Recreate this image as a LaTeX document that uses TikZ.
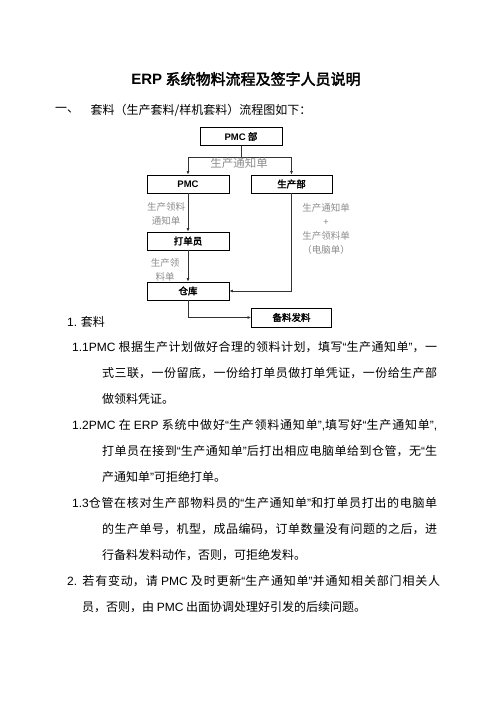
\documentclass[tikz,border=0pt]{standalone}
\usepackage{fontspec}
\usepackage{tikz}
\usetikzlibrary{shapes,arrows.meta,positioning}
\setmainfont[AutoFakeBold=2.5]{Noto Sans CJK SC}
\newfontfamily\arial{Liberation Sans}
\XeTeXlinebreaklocale "zh"
\XeTeXlinebreakskip=0pt plus 2pt
\newcommand{\qt}[1]{{\arial “}#1{\arial ”}}
\definecolor{notegray}{RGB}{140,140,140}
\definecolor{wiregray}{RGB}{50,50,50}

\begin{document}
\begin{tikzpicture}[x=1pt, y=-1pt, >={Latex[length=3.5pt,width=3pt]},
	box/.style={draw, rectangle, line width=0.8pt, minimum height=18pt, inner sep=0pt, font=\fontsize{9.5}{11}\bfseries},
	note/.style={text=notegray, align=center, inner sep=0pt, font=\fontsize{9.5}{14}\selectfont},
	body/.style={inner sep=0pt, font=\fontsize{12}{26}\selectfont},
	para/.style={body, anchor=north west, align=justify},
	wire/.style={draw=wiregray, line width=0.8pt}]
	\useasboundingbox (0,0) rectangle (496,702);

	\node[font=\fontsize{15}{18}\bfseries] (title) at (246,79) {{\arial ERP} 系统物料流程及签字人员说明};
	\node[body, anchor=west] (sec) at (55,110) {一、};
	\node[body] (secname) [right=11pt of sec] {套料（生产套料/样机套料）流程图如下：};

	\node[box, minimum width=82pt] (pmcdept) at (241,136.5) {{\arial PMC} 部};
	\node[box, minimum width=82pt] (pmc) [below of=pmcdept, xshift=-53pt, node distance=47.5pt] {\arial PMC};
	\node[box, minimum width=81pt] (prod) [right of=pmc, node distance=103.5pt] {生产部};
	\node[box, minimum width=82pt] (clerk) [below of=pmc, node distance=57pt] {打单员};
	\node[box, minimum width=82pt] (store) [below of=clerk, node distance=50pt] {仓库};
	\node[box, minimum width=80pt, minimum height=19pt] (issue) [below of=prod, node distance=133.5pt] {备料发料};

	\draw[wire, ->] (pmcdept.south) -- ++(0,11) -| (pmc.north);
	\draw[wire, ->] (pmcdept.south) -- ++(0,11) -| (prod.north);
	\draw[wire, ->] (pmc) -- (clerk);
	\draw[wire, ->] (clerk) -- (store);
	\draw[wire, ->] (prod.south) |- (store.east);
	\draw[wire, ->] (store.south) |- (issue.west);

	\node[note, font=\fontsize{11.5}{13}\selectfont] (notice) at (239,163.5) {生产通知单};
	\node[note] (picknote) at (166,213.5) {生产领料\\通知单};
	\node[note] (slipnote) at (165,269.5) {生产领\\料单};
	\node[note] (combonote) at (326,229) {生产通知单\\+\\生产领料单\\（电脑单）};

	\node[body, anchor=west] (step) at (67,322) {{\arial 1.} 套料};
	\node[para, text width=365pt] (items) at (72,341.5) {\tolerance=10000
		\noindent\hangindent=30pt\hangafter=1 {\arial 1.1PMC} 根据生产计划做好合理的领料计划，填写\qt{生产通知单}，一\linebreak 式三联，一份留底，一份给打单员做打单凭证，一份给生产部\linebreak 做领料凭证。\par
		\noindent\hangindent=30pt\hangafter=1 {\arial 1.2PMC} 在 {\arial ERP} 系统中做好\qt{生产领料通知单}{\arial ,}填写好\qt{生产通知单}{\arial ,}\linebreak 打单员在接到\qt{生产通知单}后打出相应电脑单给到仓管，无{\arial “}生\linebreak 产通知单{\arial ”}可拒绝打单。\par
		\noindent\hangindent=30pt\hangafter=1 {\arial 1.3}仓管在核对生产部物料员的\qt{生产通知单}和打单员打出的电脑单\linebreak 的生产单号，机型，成品编码，订单数量没有问题的之后，进\linebreak 行备料发料动作，否则，可拒绝发料。\par};
	\node[para, text width=373pt] (change) at (67,575.5) {\tolerance=10000
		\noindent\hangindent=15pt\hangafter=1 {\arial 2.} 若有变动，请 {\arial PMC} 及时更新\qt{生产通知单}并通知相关部门相关人\linebreak 员，否则，由 {\arial PMC} 出面协调处理好引发的后续问题。\par};
\end{tikzpicture}
\end{document}
